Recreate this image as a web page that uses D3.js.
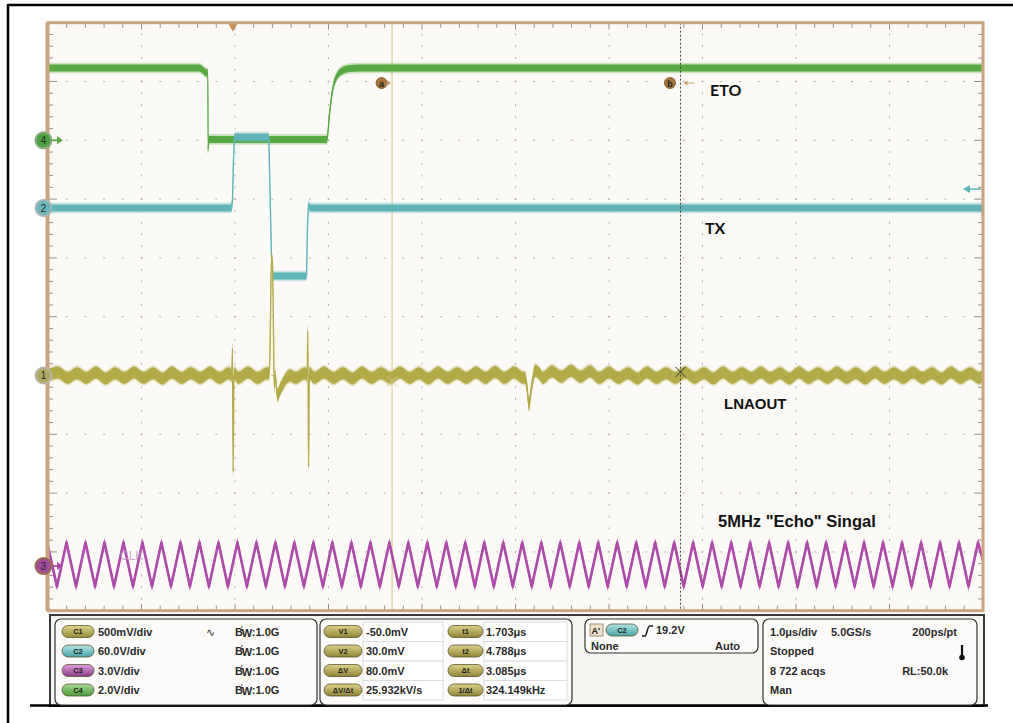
<!DOCTYPE html>
<html><head><meta charset="utf-8">
<script src="https://cdn.jsdelivr.net/npm/d3@7"></script>
<style>html,body{margin:0;padding:0;background:#fff;} svg{display:block;}</style>
</head><body>
<script>
// ================= DATA =================
// time axis: 1.0 us/div, 10 divisions, trigger (t=0) about 1.977 div from left
const timeWindow = [-1.977, 8.023];           // microseconds
const channelNames = ["C1", "C2", "C3", "C4"];
const channelVdiv = [0.5, 60, 3, 2];          // volts per division
const channelOffsetDiv = [-1.0, 1.85, -4.24, 3.0]; // ground marker position (div from centre)
const channelSettings = ["500mV/div", "60.0V/div", "3.0V/div", "2.0V/div"];
const bandwidths = ["1.0G", "1.0G", "1.0G", "1.0G"];
const traceLabels = ["LNAOUT", "TX", "5MHz \"Echo\" Singal", "ETO"];

// C4  ETO  [t(us), V]
const etoData = [
  [-1.977, 2.46], [-0.362, 2.46], [-0.319, 2.38], [-0.287, 2.3], [-0.268, 2.3],
  [-0.264, -0.3], [-0.258, 0.03], [1.007, 0.03], [1.034, 0.9], [1.066, 1.7],
  [1.109, 2.15], [1.167, 2.36], [1.253, 2.44], [1.360, 2.46], [8.023, 2.46]
];
// C2  TX  [t(us), V]
const txData = [
  [-1.977, 0], [-0.014, 0], [-0.004, 8], [0.007, 50], [0.018, 72.3],
  [0.384, 72.3], [0.397, 20], [0.413, -50], [0.427, -69.5], [0.788, -69.5],
  [0.798, -20], [0.809, 3], [0.825, 0], [8.023, 0]
];
// C1  LNAOUT  [t(us), V]
const lnaData = [
  [-1.977, 0.0],
  [-1.870, 0.025], [-1.768, -0.02], [-1.667, 0.02], [-1.565, -0.02], [-1.464, 0.025], [-1.362, -0.025],
  [-1.260, 0.02], [-1.159, -0.02], [-1.057, 0.025], [-0.956, -0.02], [-0.854, 0.02], [-0.752, -0.025],
  [-0.651, 0.025], [-0.549, -0.02], [-0.448, 0.02], [-0.346, -0.02], [-0.244, 0.025], [-0.143, -0.02],
  [-0.041, 0.02],
  [-0.012, 0.0], [-0.004, 0.23], [0.003, -0.82], [0.012, 0.02],
  [0.060, -0.02], [0.162, 0.025], [0.264, -0.02], [0.365, 0.02],
  [0.392, 0.02], [0.403, 0.5], [0.413, 1.0], [0.424, 0.95], [0.435, 0.35], [0.443, -0.1],
  [0.451, 0.0], [0.478, -0.17], [0.494, -0.14], [0.536, -0.07], [0.611, 0.0],
  [0.670, -0.02], [0.772, 0.02],
  [0.795, 0.0], [0.802, 0.38], [0.810, -0.78], [0.818, 0.02],
  [0.873, -0.02], [0.975, 0.025], [1.076, -0.02], [1.178, 0.02], [1.280, -0.025], [1.381, 0.025],
  [1.483, -0.02], [1.584, 0.02], [1.686, -0.02], [1.788, 0.025], [1.889, -0.02], [1.991, 0.02],
  [2.092, -0.025], [2.194, 0.025], [2.296, -0.02], [2.397, 0.02], [2.499, -0.02], [2.600, 0.025],
  [2.702, -0.02], [2.804, 0.03], [2.905, -0.02], [3.007, 0.025], [3.108, -0.02],
  [3.125, -0.02], [3.146, -0.1], [3.167, -0.25], [3.189, -0.13], [3.210, -0.03], [3.232, 0.04], [3.285, 0.01],
  [3.312, -0.02], [3.413, 0.035], [3.515, -0.01], [3.616, 0.04], [3.718, -0.01], [3.820, 0.035],
  [3.921, -0.02], [4.023, 0.025], [4.124, -0.02], [4.226, 0.02], [4.328, -0.025], [4.429, 0.025],
  [4.531, -0.02], [4.632, 0.02], [4.734, -0.02], [4.836, 0.025], [4.937, -0.02], [5.039, 0.02],
  [5.140, -0.025], [5.242, 0.025], [5.344, -0.02], [5.445, 0.02], [5.547, -0.02], [5.648, 0.025],
  [5.750, -0.02], [5.852, 0.02], [5.953, -0.025], [6.055, 0.025], [6.156, -0.02], [6.258, 0.02],
  [6.360, -0.02], [6.461, 0.025], [6.563, -0.02], [6.664, 0.02], [6.766, -0.025], [6.868, 0.025],
  [6.969, -0.02], [7.071, 0.02], [7.172, -0.02], [7.274, 0.025], [7.376, -0.02], [7.477, 0.02],
  [7.579, -0.025], [7.680, 0.025], [7.782, -0.02], [7.884, 0.02], [7.985, -0.02], [8.023, 0.0]
];
// C3  5 MHz echo  [t(us), V]  (peaks and troughs)
const echoData = [
  [-1.977, 1.0], [-1.881, -1.05],
  [-1.779, 1.2], [-1.677, -1.05], [-1.576, 1.2], [-1.474, -1.05], [-1.373, 1.2], [-1.271, -1.05],
  [-1.170, 1.2], [-1.068, -1.05], [-0.967, 1.2], [-0.865, -1.05], [-0.764, 1.2], [-0.662, -1.05],
  [-0.560, 1.2], [-0.459, -1.05], [-0.357, 1.2], [-0.256, -1.05], [-0.154, 1.2], [-0.053, -1.05],
  [0.049, 1.2], [0.150, -1.05], [0.252, 1.2], [0.353, -1.05], [0.455, 1.2], [0.557, -1.05],
  [0.658, 1.2], [0.760, -1.05], [0.861, 1.2], [0.963, -1.05], [1.064, 1.2], [1.166, -1.05],
  [1.268, 1.2], [1.369, -1.05], [1.471, 1.2], [1.572, -1.05], [1.674, 1.2], [1.775, -1.05],
  [1.877, 1.2], [1.978, -1.05], [2.080, 1.2], [2.181, -1.05], [2.283, 1.2], [2.384, -1.05],
  [2.486, 1.2], [2.588, -1.05], [2.689, 1.2], [2.791, -1.05], [2.892, 1.2], [2.994, -1.05],
  [3.095, 1.2], [3.197, -1.05], [3.299, 1.2], [3.400, -1.05], [3.502, 1.2], [3.603, -1.05],
  [3.705, 1.2], [3.806, -1.05], [3.908, 1.2], [4.009, -1.05], [4.111, 1.2], [4.212, -1.05],
  [4.314, 1.2], [4.416, -1.05], [4.517, 1.2], [4.619, -1.05], [4.720, 1.2], [4.822, -1.05],
  [4.923, 1.2], [5.025, -1.05], [5.126, 1.2], [5.228, -1.05], [5.330, 1.2], [5.431, -1.05],
  [5.533, 1.2], [5.634, -1.05], [5.736, 1.2], [5.837, -1.05], [5.939, 1.2], [6.040, -1.05],
  [6.142, 1.2], [6.244, -1.05], [6.345, 1.2], [6.447, -1.05], [6.548, 1.2], [6.650, -1.05],
  [6.751, 1.2], [6.853, -1.05], [6.954, 1.2], [7.056, -1.05], [7.157, 1.2], [7.259, -1.05],
  [7.361, 1.2], [7.462, -1.05], [7.564, 1.2], [7.665, -1.05], [7.767, 1.2], [7.868, -1.05],
  [7.970, 1.2], [8.023, 0.3]
];
// cursors (on C1)
const cursorNames = ["a", "b"];
const cursorT = [1.703, 4.788];
const cursorV = [-0.050, 0.030];
const triggerLevel = 19.2; // V on C2
// measurement table
const measNamesV = ["V1", "V2", "\u0394V", "\u0394V/\u0394t"];
const measValsV = ["-50.0mV", "30.0mV", "80.0mV", "25.932kV/s"];
const measNamesT = ["t1", "t2", "\u0394t", "1/\u0394t"];
const measValsT = ["1.703\u03bcs", "4.788\u03bcs", "3.085\u03bcs", "324.149kHz"];
const timebaseText = [["1.0\u03bcs/div", "5.0GS/s", "200ps/pt"], ["Stopped"], ["8 722 acqs", "RL:50.0k"], ["Man"]];

// ================= STYLE / LAYOUT =================
const W = 1013, H = 723;
const scr = {x0: 48, x1: 983, y0: 22.7, y1: 610.7};
const colors = ["#b3aa48", "#5fb4b8", "#ad4aaa", "#58a943"];
const bandH = [6, 3.5, 3.5, 3.5];
const lineW = [1.4, 1.4, 2.6, 1.4];
const FONT = "'Liberation Sans', Arial, sans-serif";

const svg = d3.select("body").append("svg").attr("width", W).attr("height", H)
  .attr("font-family", FONT);
const defs = svg.append("defs");
function grad(id, c1, c2) {
  const g = defs.append("linearGradient").attr("id", id).attr("x1", 0).attr("y1", 0).attr("x2", 0).attr("y2", 1);
  g.append("stop").attr("offset", "0%").attr("stop-color", c1);
  g.append("stop").attr("offset", "100%").attr("stop-color", c2);
}
grad("gC1", "#e0d68e", "#958a38");
grad("gC2", "#b4e3e6", "#4aa3a8");
grad("gC3", "#dda0dc", "#8e3a8c");
grad("gC4", "#a9da94", "#4c9a3c");
grad("gM", "#ddd28a", "#8f8436");
defs.append("clipPath").attr("id", "clip").append("rect")
  .attr("x", scr.x0).attr("y", scr.y0).attr("width", scr.x1 - scr.x0).attr("height", scr.y1 - scr.y0);

const x = d3.scaleLinear().domain(timeWindow).range([scr.x0, scr.x1]);
const yDiv = d3.scaleLinear().domain([-5, 5]).range([scr.y1, scr.y0]);
const xDiv = d3.scaleLinear().domain([0, 10]).range([scr.x0, scr.x1]);
const yCh = ci => v => yDiv(channelOffsetDiv[ci] + v / channelVdiv[ci]);

// outer black frame
svg.append("line").attr("x1", 8).attr("y1", 5).attr("x2", W).attr("y2", 5).attr("stroke", "#000").attr("stroke-width", 2.5);
svg.append("line").attr("x1", 8).attr("y1", 4).attr("x2", 8).attr("y2", H).attr("stroke", "#000").attr("stroke-width", 2.5);

// screen
svg.append("rect").attr("x", scr.x0).attr("y", scr.y0).attr("width", scr.x1 - scr.x0).attr("height", scr.y1 - scr.y0)
  .attr("fill", "#fcfaf7");

// grid dots
const grid = svg.append("g").attr("fill", "#b9b1a8");
for (let k = 1; k < 10; k++) {
  for (let j = 1; j < 50; j++) {
    grid.append("rect").attr("x", xDiv(k) - 0.5).attr("y", yDiv(-5 + j * 0.2) - 1).attr("width", 1).attr("height", 2);
  }
}
for (let j = 1; j < 10; j++) {
  for (let k = 1; k < 50; k++) {
    grid.append("rect").attr("x", xDiv(k * 0.2) - 1).attr("y", yDiv(-5 + j) - 0.5).attr("width", 2).attr("height", 1);
  }
}
// border ticks
const ticks = svg.append("g").attr("stroke", "#9a928a").attr("stroke-width", 1);
for (let k = 1; k < 50; k++) {
  const xx = xDiv(k * 0.2), L = (k % 5 === 0) ? 7 : 5;
  ticks.append("line").attr("x1", xx).attr("x2", xx).attr("y1", scr.y0).attr("y2", scr.y0 + L);
  ticks.append("line").attr("x1", xx).attr("x2", xx).attr("y1", scr.y1).attr("y2", scr.y1 - L);
}
for (let j = 1; j < 50; j++) {
  const yy = yDiv(-5 + j * 0.2), L = (j % 5 === 0) ? 9 : 5;
  ticks.append("line").attr("y1", yy).attr("y2", yy).attr("x1", scr.x0).attr("x2", scr.x0 + L);
  ticks.append("line").attr("y1", yy).attr("y2", yy).attr("x1", scr.x1).attr("x2", scr.x1 - L);
}

// cursor a (behind traces)
svg.append("line").attr("x1", x(cursorT[0])).attr("x2", x(cursorT[0])).attr("y1", scr.y0).attr("y2", scr.y1)
  .attr("stroke", "#e3d7a6").attr("stroke-width", 1.5);

// traces
const tg = svg.append("g").attr("clip-path", "url(#clip)");
function drawTrace(data, ci, curve) {
  const y = yCh(ci), h = bandH[ci], c = colors[ci];
  tg.append("path").datum(data)
    .attr("d", d3.area().x(d => x(d[0])).y0(d => y(d[1]) + h + 1.8).y1(d => y(d[1]) - h - 1.8).curve(curve))
    .attr("fill", c).attr("opacity", 0.3);
  tg.append("path").datum(data)
    .attr("d", d3.area().x(d => x(d[0])).y0(d => y(d[1]) + h).y1(d => y(d[1]) - h).curve(curve))
    .attr("fill", c);
  tg.append("path").datum(data)
    .attr("d", d3.line().x(d => x(d[0])).y(d => y(d[1])).curve(curve))
    .attr("fill", "none").attr("stroke", c).attr("stroke-width", lineW[ci]).attr("stroke-linejoin", "round");
}
drawTrace(etoData, 3, d3.curveMonotoneX);
drawTrace(echoData, 2, d3.curveLinear);
drawTrace(txData, 1, d3.curveLinear);
drawTrace(lnaData, 0, d3.curveMonotoneX);

// CLK ghost label
svg.append("text").attr("x", 120).attr("y", 560).attr("font-size", 12).attr("fill", "#c99bc8").attr("opacity", 0.85).text("CLK");

// cursor b dashed line (on top)
svg.append("line").attr("x1", x(cursorT[1])).attr("x2", x(cursorT[1])).attr("y1", scr.y0).attr("y2", scr.y1)
  .attr("stroke", "#4a4a30").attr("stroke-width", 1).attr("stroke-dasharray", "2,2");

// cursor X marks on C1
cursorT.forEach((t, i) => {
  const cx = x(t), cy = yCh(0)(cursorV[i]), s = 5;
  const col = i === 0 ? "#d8c89a" : "#333";
  svg.append("path").attr("d", `M${cx - s},${cy - s}L${cx + s},${cy + s}M${cx - s},${cy + s}L${cx + s},${cy - s}`)
    .attr("stroke", col).attr("stroke-width", 1);
});
// cursor label badges
cursorNames.forEach((n, i) => {
  const cx = x(cursorT[i]) - 10.5, cy = 83;
  svg.append("circle").attr("cx", cx).attr("cy", cy).attr("r", 5.5).attr("fill", "#a8753e").attr("stroke", "#7a5022").attr("stroke-width", 0.8);
  svg.append("text").attr("x", cx).attr("y", cy + 3.5).attr("text-anchor", "middle").attr("font-size", 9).attr("font-weight", "bold").attr("fill", "#222").text(n);
  if (i === 0) {
    svg.append("path").attr("d", `M${cx + 5},${cy - 3}L${cx + 9.5},${cy}L${cx + 5},${cy + 3}Z`).attr("fill", "#c89a6a");
  } else {
    const ax = x(cursorT[i]) + 3;
    svg.append("path").attr("d", `M${ax},${cy}L${ax + 4},${cy - 2.5}L${ax + 4},${cy + 2.5}Z M${ax + 4},${cy - 0.5}h7v1h-7Z`).attr("fill", "#c9a472");
  }
});

// trigger position marker (t = 0)
svg.append("path").attr("d", `M${x(0) - 5},${scr.y0}L${x(0) + 5},${scr.y0}L${x(0)},${scr.y0 + 9}Z`).attr("fill", "#c98f55");
// trigger level arrow (right)
{
  const ty = yCh(1)(triggerLevel);
  svg.append("path").attr("d", `M${scr.x1 - 20},${ty}L${scr.x1 - 13},${ty - 4}L${scr.x1 - 13},${ty + 4}Z`).attr("fill", colors[1]);
  svg.append("line").attr("x1", scr.x1 - 13).attr("x2", scr.x1 - 2).attr("y1", ty).attr("y2", ty).attr("stroke", colors[1]).attr("stroke-width", 1.5);
}

// screen border (tan)
svg.append("rect").attr("x", scr.x0).attr("y", scr.y0).attr("width", scr.x1 - scr.x0).attr("height", scr.y1 - scr.y0)
  .attr("fill", "none").attr("stroke", "#c9a47e").attr("stroke-width", 3);
svg.append("line").attr("x1", scr.x0 - 1.5).attr("x2", scr.x0 - 1.5).attr("y1", scr.y0).attr("y2", scr.y1)
  .attr("stroke", "#c9a47e").attr("stroke-width", 2);

// channel ground markers
const markerFill = ["#b0a862", "#6cb8bc", "#a24b9f", "#4fa244"];
const markerRing = ["#b9b4aa", "#a9b4b6", "#9a6a50", "#88ac7c"];
[3, 1, 0, 2].forEach(ci => {
  const cy = yDiv(channelOffsetDiv[ci]);
  if (ci === 3 || ci === 2) {
    svg.append("line").attr("x1", 50).attr("x2", 58).attr("y1", cy).attr("y2", cy).attr("stroke", colors[ci]).attr("stroke-width", 1.8);
    svg.append("path").attr("d", `M57,${cy - 4}L63,${cy}L57,${cy + 4}Z`).attr("fill", colors[ci]);
  }
  svg.append("circle").attr("cx", 43.5).attr("cy", cy).attr("r", 8).attr("fill", markerFill[ci])
    .attr("stroke", markerRing[ci]).attr("stroke-width", 2);
  svg.append("text").attr("x", 43.5).attr("y", cy + 3.8).attr("text-anchor", "middle").attr("font-size", 10.5)
    .attr("fill", "#2a2a2a").text(channelNames[ci].slice(1));
});

// trace labels
const lab = svg.append("g").attr("font-weight", "bold").attr("fill", "#111");
lab.append("text").attr("x", 710).attr("y", 96).attr("font-family", "Lato, sans-serif").attr("font-size", 16).text(traceLabels[3]);
lab.append("text").attr("x", 705).attr("y", 234).attr("font-family", "Lato, sans-serif").attr("font-size", 16).text(traceLabels[1]);
lab.append("text").attr("x", 724).attr("y", 409).attr("font-size", 15).text(traceLabels[0]);
lab.append("text").attr("x", 718).attr("y", 527).attr("font-size", 16.5).text(traceLabels[2]);

// ================= bottom panel =================
svg.append("rect").attr("x", 50).attr("y", 615).attr("width", 934).attr("height", 91)
  .attr("fill", "#f7f5f2").attr("stroke", "#3a3a3a").attr("stroke-width", 2);
svg.append("line").attr("x1", 30).attr("x2", 988).attr("y1", 705.5).attr("y2", 705.5).attr("stroke", "#000").attr("stroke-width", 2.5);

function box(x0, y0, w, h) {
  svg.append("rect").attr("x", x0).attr("y", y0).attr("width", w).attr("height", h).attr("rx", 6)
    .attr("fill", "#fdfcfb").attr("stroke", "#333").attr("stroke-width", 1.2);
}
function pill(x0, cy, w, fill, label) {
  svg.append("rect").attr("x", x0).attr("y", cy - 6).attr("width", w).attr("height", 12).attr("rx", 6)
    .attr("fill", fill).attr("stroke", "#5a5530").attr("stroke-width", 0.8);
  svg.append("text").attr("x", x0 + w / 2).attr("y", cy + 2.8).attr("text-anchor", "middle")
    .attr("font-size", 7.5).attr("font-weight", "bold").attr("fill", "#222").text(label);
}
const rowsC = [631.5, 651, 670.5, 690];
const txt = (x0, y0, s, anchor) => svg.append("text").attr("x", x0).attr("y", y0).attr("font-size", 11)
  .attr("font-weight", "bold").attr("fill", "#2a2a2a").attr("text-anchor", anchor || "start").text(s);

box(55, 619, 262, 86);
channelNames.forEach((n, i) => {
  pill(62, rowsC[i], 32, `url(#g${n})`, n);
  txt(98, rowsC[i] + 4, channelSettings[i]);
  const b = svg.append("text").attr("x", 235).attr("y", rowsC[i] + 4).attr("font-size", 11).attr("font-weight", "bold").attr("fill", "#2a2a2a");
  b.append("tspan").text("B");
  b.append("tspan").attr("font-size", 7).attr("dx", -2).attr("dy", -5).text("'");
  b.append("tspan").attr("dy", 6).attr("dx", -1).text("W");
  b.append("tspan").attr("dy", -1).text(":" + bandwidths[i]);
});
svg.append("text").attr("x", 206).attr("y", rowsC[0] + 4).attr("font-size", 11).attr("font-family", "DejaVu Sans").attr("fill", "#333").text("\u223f");

box(320, 619, 252, 86);
for (let i = 0; i < 4; i++) {
  svg.append("rect").attr("x", 363).attr("y", 622 + i * 19.5).attr("width", 80).attr("height", 19.5).attr("fill", "#fff").attr("stroke", "#dcdcdc");
  svg.append("rect").attr("x", 484).attr("y", 622 + i * 19.5).attr("width", 83).attr("height", 19.5).attr("fill", "#fff").attr("stroke", "#dcdcdc");
  pill(324, rowsC[i], 38, "url(#gM)", measNamesV[i]);
  pill(448, rowsC[i], 35, "url(#gM)", measNamesT[i]);
  txt(366, rowsC[i] + 4, measValsV[i]);
  txt(486, rowsC[i] + 4, measValsT[i]);
}

box(585, 619, 173, 34);
svg.append("rect").attr("x", 590).attr("y", 624).attr("width", 13).attr("height", 12).attr("fill", "#f1e2cc").attr("stroke", "#8a7a6a").attr("stroke-width", 0.8);
svg.append("text").attr("x", 591.5).attr("y", 633.5).attr("font-size", 9).attr("font-weight", "bold").attr("fill", "#222").text("A'");
pill(606, 630, 32, "url(#gC2)", channelNames[1]);
svg.append("path").attr("d", "M642,636 L645,636 C647,636 647,626 650,626 L653,626").attr("fill", "none").attr("stroke", "#111").attr("stroke-width", 1.4);
txt(656, 634, triggerLevel.toFixed(1) + "V");
txt(591, 650, "None");
txt(715, 650, "Auto");

box(763, 619, 214, 86);
txt(770, rowsC[0] + 4, timebaseText[0][0]);
txt(831, rowsC[0] + 4, timebaseText[0][1]);
txt(957, rowsC[0] + 4, timebaseText[0][2], "end");
txt(770, rowsC[1] + 4, timebaseText[1][0]);
txt(770, rowsC[2] + 4, timebaseText[2][0]);
txt(948, rowsC[2] + 4, timebaseText[2][1], "end");
txt(770, rowsC[3] + 4, timebaseText[3][0]);
// thermometer icon
svg.append("line").attr("x1", 962).attr("x2", 962).attr("y1", 645).attr("y2", 656).attr("stroke", "#111").attr("stroke-width", 2.2);
svg.append("circle").attr("cx", 962).attr("cy", 657.5).attr("r", 2.8).attr("fill", "#111");
</script>
</body></html>
